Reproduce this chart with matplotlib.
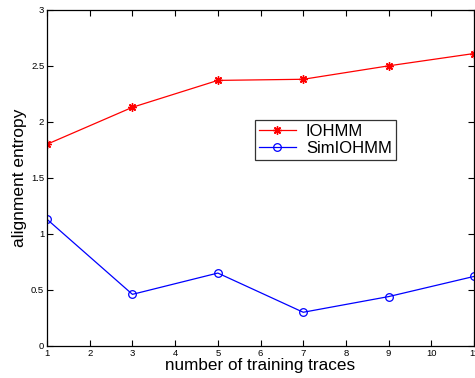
import matplotlib
matplotlib.use("Agg")
import matplotlib.pyplot as plt

x = [1, 3, 5, 7, 9, 11]
iohmm = [1.80, 2.13, 2.37, 2.38, 2.50, 2.61]
simiohmm = [1.13, 0.46, 0.65, 0.30, 0.44, 0.62]
xticks = list(range(1, 12))
yticks = [0, 0.5, 1, 1.5, 2, 2.5, 3]

plt.rcParams['font.family'] = ['Liberation Sans', 'DejaVu Sans']
fig = plt.figure(figsize=(4.75, 3.78), dpi=100)
ax = fig.add_axes([0.099, 0.085, 0.899, 0.889])
ax.plot(x, iohmm, color='red', marker=(8, 2, 0), markersize=6, markeredgewidth=1.0,
        linewidth=0.9, label='IOHMM')
ax.plot(x, simiohmm, color='blue', marker='o', markersize=5.5, markerfacecolor='none',
        markeredgewidth=0.9, linewidth=0.9, label='SimIOHMM')
ax.set_xlim(1, 11)
ax.set_ylim(0, 3)
ax.set_xticks(xticks)
ax.set_xticklabels([str(t) for t in xticks])
ax.set_yticks(yticks)
ax.set_yticklabels(['0', '0.5', '1', '1.5', '2', '2.5', '3'])
ax.tick_params(direction='in', top=True, right=True, labelsize=6.8, length=4, width=0.8, pad=2)
for s in ax.spines.values():
    s.set_linewidth(0.9)
ax.set_xlabel('number of training traces', fontsize=12.3, labelpad=0)
ax.set_ylabel('alignment entropy', fontsize=12.5, labelpad=3)
leg = ax.legend(loc='lower left', bbox_to_anchor=(0.487, 0.554), fontsize=12, frameon=True,
                fancybox=False, edgecolor='black', borderpad=0.25, handlelength=2.2,
                labelspacing=0.1, handletextpad=0.6, borderaxespad=0)
leg.get_frame().set_linewidth(0.9)
fig.savefig('out.png', dpi=100)
